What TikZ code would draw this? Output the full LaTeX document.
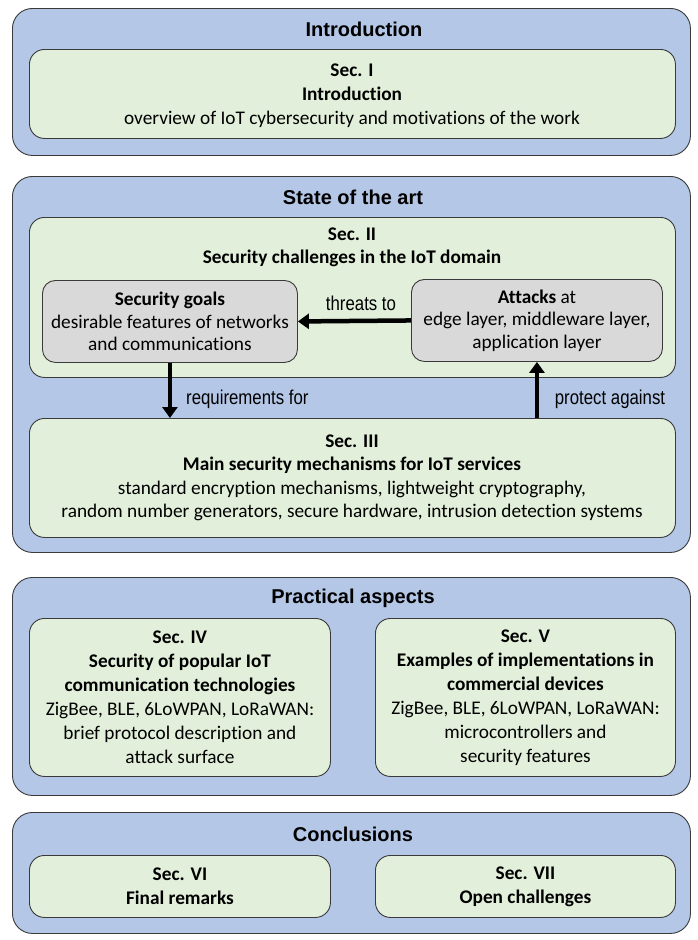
\documentclass[tikz,border=0pt]{standalone}
\usepackage{fontspec}
\setmainfont[Ligatures=NoCommon]{Carlito}
\newfontfamily\headfont{Liberation Sans}
\newfontfamily\narrowfont[FakeStretch=0.84]{Liberation Sans}
\usetikzlibrary{arrows.meta}
\definecolor{bandblue}{HTML}{B4C7E7}
\definecolor{secgreen}{HTML}{E2EFDA}
\definecolor{boxgrey}{HTML}{D9D9D9}
\definecolor{edgeline}{HTML}{3A3A3A}
\tikzset{
  band/.style={draw=edgeline, fill=bandblue, rounded corners=20pt, line width=0.9pt,
    anchor=north west, inner sep=0pt},
  secbox/.style={draw=edgeline, fill=secgreen, rounded corners=15pt, line width=0.9pt,
    anchor=north west, inner sep=0pt},
  greybox/.style={draw=edgeline, fill=boxgrey, rounded corners=13pt, line width=0.9pt,
    anchor=north west, inner sep=0pt},
  bandtitle/.style={font=\headfont\bfseries\fontsize{20}{24}\selectfont, inner sep=0pt},
  body/.style={font=\fontsize{19.3}{24}\selectfont, align=center, inner sep=0pt},
  flowlabel/.style={font=\narrowfont\fontsize{20}{24}\selectfont, inner sep=0pt},
  flow/.style={line width=4.5pt, -{Triangle[length=11pt,width=15pt]}},
}
\begin{document}
\begin{tikzpicture}[x=1pt,y=-1pt]
\useasboundingbox (0,0) rectangle (698,940);

% ---- Introduction ----
\node[band, minimum width=678pt, minimum height=147pt] (introband) at (12,8) {};
\node[bandtitle] (introtitle) at (364,29) {Introduction};
\node[secbox, minimum width=646pt, minimum height=89pt] (sec1) at (29,49) {};
\node[body] (sec1text) at (352,96) {\textbf{Sec. I}\\\textbf{Introduction}\\overview of IoT cybersecurity and motivations of the work};

% ---- State of the art ----
\node[band, minimum width=678pt, minimum height=376pt] (stateband) at (12,176) {};
\node[bandtitle] (statetitle) at (353,197) {State of the art};
\node[secbox, minimum width=646pt, minimum height=160pt] (sec2) at (29,217) {};
\node[body, font=\bfseries\fontsize{19.3}{23}\selectfont] (sec2text) at (352,247) {Sec. II\\Security challenges in the IoT domain};
\node[greybox, minimum width=255pt, minimum height=82pt] (goals) at (42,280) {};
\node[body, font=\fontsize{19.3}{22.5}\selectfont] (goalstext) at (goals.center) {\textbf{Security goals}\\desirable features of networks\\and communications};
\node[greybox, minimum width=251pt, minimum height=82pt] (attacks) at (411,279) {};
\node[body, font=\fontsize{19.3}{22.5}\selectfont] (attackstext) at (attacks.center) {\textbf{Attacks} at\\edge layer, middleware layer,\\application layer};

\node[secbox, minimum width=646pt, minimum height=119pt] (sec3) at (29,418) {};
\node[body, font=\fontsize{19.3}{23.5}\selectfont] (sec3text) at (352,478) {\textbf{Sec. III}\\\textbf{Main security mechanisms for IoT services}\\standard encryption mechanisms, lightweight cryptography,\\random number generators, secure hardware, intrusion detection systems};

\draw[flow] (attacks.west) -- (goals.east);
\draw[flow] (goals.south) -- (goals.south |- sec3.north);
\draw[flow] (attacks.south |- sec3.north) -- (attacks.south);
\node[flowlabel] (threatslabel) at (361,303) {threats to};
\node[flowlabel, anchor=west] (reqlabel) at (186,399) {requirements for};
\node[flowlabel] (protlabel) at (610,399) {protect against};

% ---- Practical aspects ----
\node[band, minimum width=678pt, minimum height=218pt] (practband) at (12,577) {};
\node[bandtitle] (practtitle) at (353,598) {Practical aspects};
\node[secbox, minimum width=301pt, minimum height=158pt] (sec4) at (29,618) {};
\node[body] (sec4text) at (sec4.center) {\textbf{Sec. IV}\\\textbf{Security of popular IoT}\\\textbf{communication technologies}\\ZigBee, BLE, 6LoWPAN, LoRaWAN:\\brief protocol description and\\attack surface};
\node[secbox, minimum width=300pt, minimum height=158pt] (sec5) at (375,618) {};
\node[body] (sec5text) at (sec5.center) {\textbf{Sec. V}\\\textbf{Examples of implementations in}\\\textbf{commercial devices}\\ZigBee, BLE, 6LoWPAN, LoRaWAN:\\microcontrollers and\\security features};

% ---- Conclusions ----
\node[band, minimum width=678pt, minimum height=121pt] (concband) at (12,812) {};
\node[bandtitle] (conctitle) at (353,834) {Conclusions};
\node[secbox, minimum width=301pt, minimum height=62pt] (sec6) at (29,855) {};
\node[body, font=\bfseries\fontsize{19.3}{24}\selectfont] (sec6text) at (sec6.center) {Sec. VI\\Final remarks};
\node[secbox, minimum width=300pt, minimum height=62pt] (sec7) at (375,855) {};
\node[body, font=\bfseries\fontsize{19.3}{24}\selectfont] (sec7text) at (sec7.center) {Sec. VII\\Open challenges};
\end{tikzpicture}
\end{document}
